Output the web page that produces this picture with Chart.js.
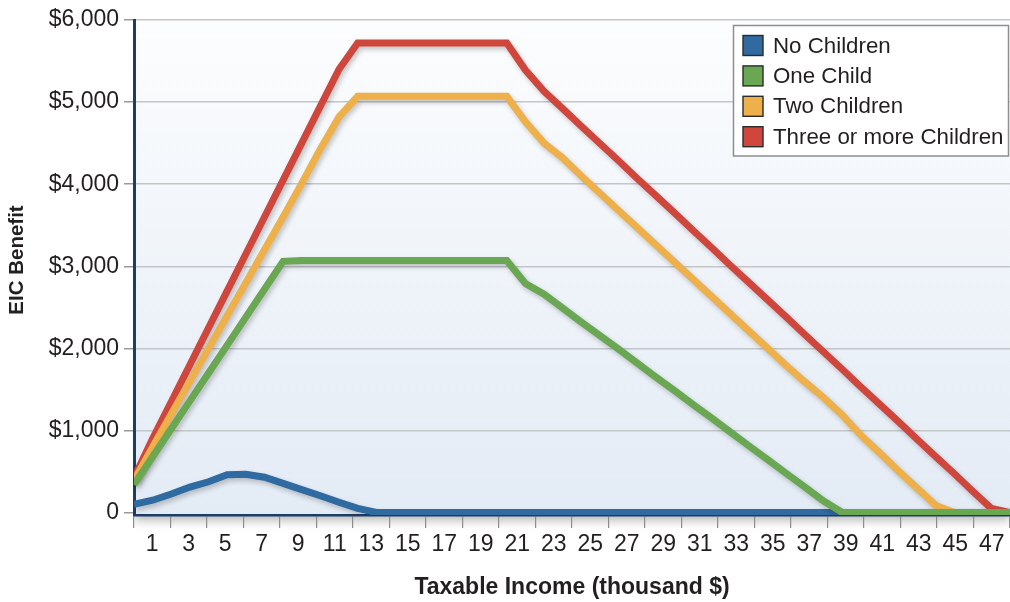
<!DOCTYPE html>
<html>
<head>
<meta charset="utf-8">
<title>EIC Benefit by Taxable Income</title>
<script src="https://cdn.jsdelivr.net/npm/chart.js@4.4.1/dist/chart.umd.min.js"></script>
<style>
  html, body { margin: 0; padding: 0; background: #ffffff; }
  canvas { display: block; }
</style>
</head>
<body>
<canvas id="eic" width="1010" height="602"></canvas>
<script>
// Taxable income, thousand $ (one point per thousand)
const income = [1, 2, 3, 4, 5, 6, 7, 8, 9, 10, 11, 12, 13, 14, 15, 16, 17, 18, 19, 20, 21, 22, 23, 24,
                25, 26, 27, 28, 29, 30, 31, 32, 33, 34, 35, 36, 37, 38, 39, 40, 41, 42, 43, 44, 45, 46, 47, 48];

// Labels shown under the income axis
const incomeLabels = ['1', '3', '5', '7', '9', '11', '13', '15', '17', '19', '21', '23',
                      '25', '27', '29', '31', '33', '35', '37', '39', '41', '43', '45', '47'];

// Dollar ticks on the benefit axis
const benefitTicks = [0, 1000, 2000, 3000, 4000, 5000, 6000];

const seriesNames = ['No Children', 'One Child', 'Two Children', 'Three or more Children'];

// EIC benefit ($) at each income point
const noChildren = [100, 150, 225, 310, 375, 460, 465, 430, 355, 280, 205, 125, 50, 0,
                    0, 0, 0, 0, 0, 0, 0, 0, 0, 0, 0, 0, 0, 0, 0, 0, 0, 0, 0, 0,
                    0, 0, 0, 0, 0, 0, 0, 0, 0, 0, 0, 0, 0, 0];
const oneChild = [340, 680, 1020, 1360, 1700, 2040, 2380, 2720, 3060, 3070, 3070, 3070, 3070, 3070,
                  3070, 3070, 3070, 3070, 3070, 3070, 3070, 2790, 2660, 2490, 2320, 2155, 1990, 1820,
                  1650, 1485, 1315, 1150, 980, 810, 645, 475, 310, 140, 0, 0, 0, 0, 0, 0, 0, 0, 0, 0];
const twoChildren = [390, 800, 1200, 1600, 2000, 2400, 2800, 3200, 3600, 4010, 4430, 4820, 5070, 5070,
                     5070, 5070, 5070, 5070, 5070, 5070, 5070, 4760, 4500, 4320, 4100, 3890, 3680, 3470,
                     3260, 3050, 2840, 2630, 2420, 2210, 2000, 1790, 1590, 1400, 1190, 940, 730, 510,
                     300, 90, 0, 0, 0, 0];
const threeOrMore = [420, 900, 1350, 1800, 2250, 2700, 3150, 3600, 4050, 4500, 4950, 5400, 5720, 5720,
                     5720, 5720, 5720, 5720, 5720, 5720, 5720, 5390, 5130, 4920, 4705, 4495, 4285, 4070,
                     3860, 3650, 3435, 3225, 3010, 2800, 2590, 2380, 2165, 1955, 1745, 1530, 1320, 1110,
                     895, 685, 475, 260, 50, 0];

const seriesValues = [noChildren, oneChild, twoChildren, threeOrMore];
const seriesColors = ['#2f6aa1', '#6aa753', '#eeb04a', '#cf463d'];
// lower order is painted on top
const seriesOrder = [3, 0, 1, 2];

const TEXT = '#231f20';
const NAVY = '#1d3c66';
const FAMILY = "'Liberation Sans', Arial, Helvetica, sans-serif";
Chart.defaults.font.family = FAMILY;
Chart.defaults.color = TEXT;

// Gradient plot area with a soft shadow underneath
const plotBackground = {
  id: 'plotBackground',
  beforeDraw(chart) {
    const { ctx, chartArea: a } = chart;
    ctx.save();
    ctx.beginPath();
    ctx.rect(a.left, a.bottom, a.right - a.left, 30);
    ctx.clip();
    ctx.shadowColor = 'rgba(0,0,0,0.30)';
    ctx.shadowBlur = 10;
    ctx.shadowOffsetY = 5;
    ctx.fillStyle = '#e3ebf5';
    ctx.fillRect(a.left, a.top, a.right - a.left, a.bottom - a.top);
    ctx.restore();

    ctx.save();
    const g = ctx.createLinearGradient(0, a.top, 0, a.bottom);
    g.addColorStop(0, '#fcfdfe');
    g.addColorStop(1, '#e3ebf5');
    ctx.fillStyle = g;
    ctx.fillRect(a.left, a.top, a.right - a.left, a.bottom - a.top);
    ctx.restore();
  }
};

// Drop shadow behind each line
const lineShadow = {
  id: 'lineShadow',
  beforeDatasetDraw(chart) {
    const ctx = chart.ctx;
    ctx.save();
    ctx.shadowColor = 'rgba(0,0,0,0.22)';
    ctx.shadowBlur = 5;
    ctx.shadowOffsetX = 2;
    ctx.shadowOffsetY = 3;
  },
  afterDatasetDraw(chart) {
    chart.ctx.restore();
  }
};

// Rotated title beside the benefit axis
const benefitTitle = {
  id: 'benefitTitle',
  afterDraw(chart) {
    const ctx = chart.ctx;
    ctx.save();
    ctx.translate(17, 260);
    ctx.rotate(-Math.PI / 2);
    ctx.font = 'bold 20.5px ' + FAMILY;
    ctx.fillStyle = TEXT;
    ctx.textAlign = 'center';
    ctx.textBaseline = 'middle';
    ctx.fillText('EIC Benefit', 0, 0);
    ctx.restore();
  }
};

// Boxed legend in the upper right of the plot
const boxLegend = {
  id: 'boxLegend',
  afterDraw(chart) {
    const ctx = chart.ctx;
    const left = 733.5, top = 25.5, right = 1008.5, bottom = 156;
    ctx.save();
    ctx.fillStyle = '#ffffff';
    ctx.fillRect(left, top, right - left, bottom - top);
    ctx.strokeStyle = '#8e8e8e';
    ctx.lineWidth = 1.5;
    ctx.strokeRect(left, top, right - left, bottom - top);
    ctx.font = '22.3px ' + FAMILY;
    ctx.textBaseline = 'middle';
    chart.data.datasets.forEach((ds, i) => {
      const cy = 45.5 + i * 30.4;
      ctx.fillStyle = ds.borderColor;
      ctx.fillRect(743, cy - 10, 20, 20);
      ctx.strokeStyle = '#2b2b2b';
      ctx.lineWidth = 1.4;
      ctx.strokeRect(743, cy - 10, 20, 20);
      ctx.fillStyle = TEXT;
      ctx.fillText(ds.label, 773, cy + 1);
    });
    ctx.restore();
  }
};

new Chart(document.getElementById('eic'), {
  type: 'line',
  data: {
    datasets: seriesNames.map((name, k) => ({
      label: name,
      data: income.map((x, i) => ({ x: x, y: seriesValues[k][i] })),
      borderColor: seriesColors[k],
      backgroundColor: seriesColors[k],
      borderWidth: 7,
      pointRadius: 0,
      tension: 0,
      fill: false,
      order: seriesOrder[k],
      xAxisID: 'x',
      yAxisID: 'y',
      clip: { left: 0, right: 0, top: 8, bottom: 0 }
    }))
  },
  options: {
    responsive: false,
    devicePixelRatio: 1,
    animation: false,
    layout: { padding: { top: 20, left: 0, right: 0, bottom: 0 } },
    plugins: {
      legend: { display: false },
      tooltip: { enabled: false }
    },
    scales: {
      x: {
        type: 'linear',
        min: 1,
        max: 48,
        display: false
      },
      xl: {
        type: 'category',
        position: 'bottom',
        labels: incomeLabels,
        offset: true,
        afterFit(scale) { scale.height = 87; },
        grid: {
          offset: true,
          drawOnChartArea: false,
          drawTicks: true,
          tickLength: 13,
          color: '#8c8c8c',
          lineWidth: 1.2
        },
        border: { display: true, color: NAVY, width: 2.5 },
        ticks: {
          autoSkip: false,
          maxRotation: 0,
          padding: 3,
          color: TEXT,
          font: { size: 23 }
        },
        title: {
          display: true,
          text: 'Taxable Income (thousand $)',
          color: TEXT,
          font: { size: 23, weight: 'bold' },
          padding: { top: 0, bottom: 1 }
        }
      },
      y: {
        type: 'linear',
        position: 'left',
        min: -30,
        max: 6000,
        afterBuildTicks(scale) { scale.ticks = benefitTicks.map(v => ({ value: v })); },
        afterFit(scale) { scale.width = 134; },
        ticks: {
          padding: 5,
          color: TEXT,
          font: { size: 23 },
          callback: v => (v === 0 ? '0' : '$' + v.toLocaleString('en-US'))
        },
        grid: {
          color: ctx => (ctx.tick && ctx.tick.value === 0 ? 'rgba(0,0,0,0)' : '#c4c6c8'),
          lineWidth: 1.5,
          tickLength: 10,
          tickColor: '#9a9a9a',
          tickWidth: 1.5
        },
        border: { display: true, color: NAVY, width: 3 }
      }
    }
  },
  plugins: [plotBackground, lineShadow, benefitTitle, boxLegend]
});
</script>
</body>
</html>
